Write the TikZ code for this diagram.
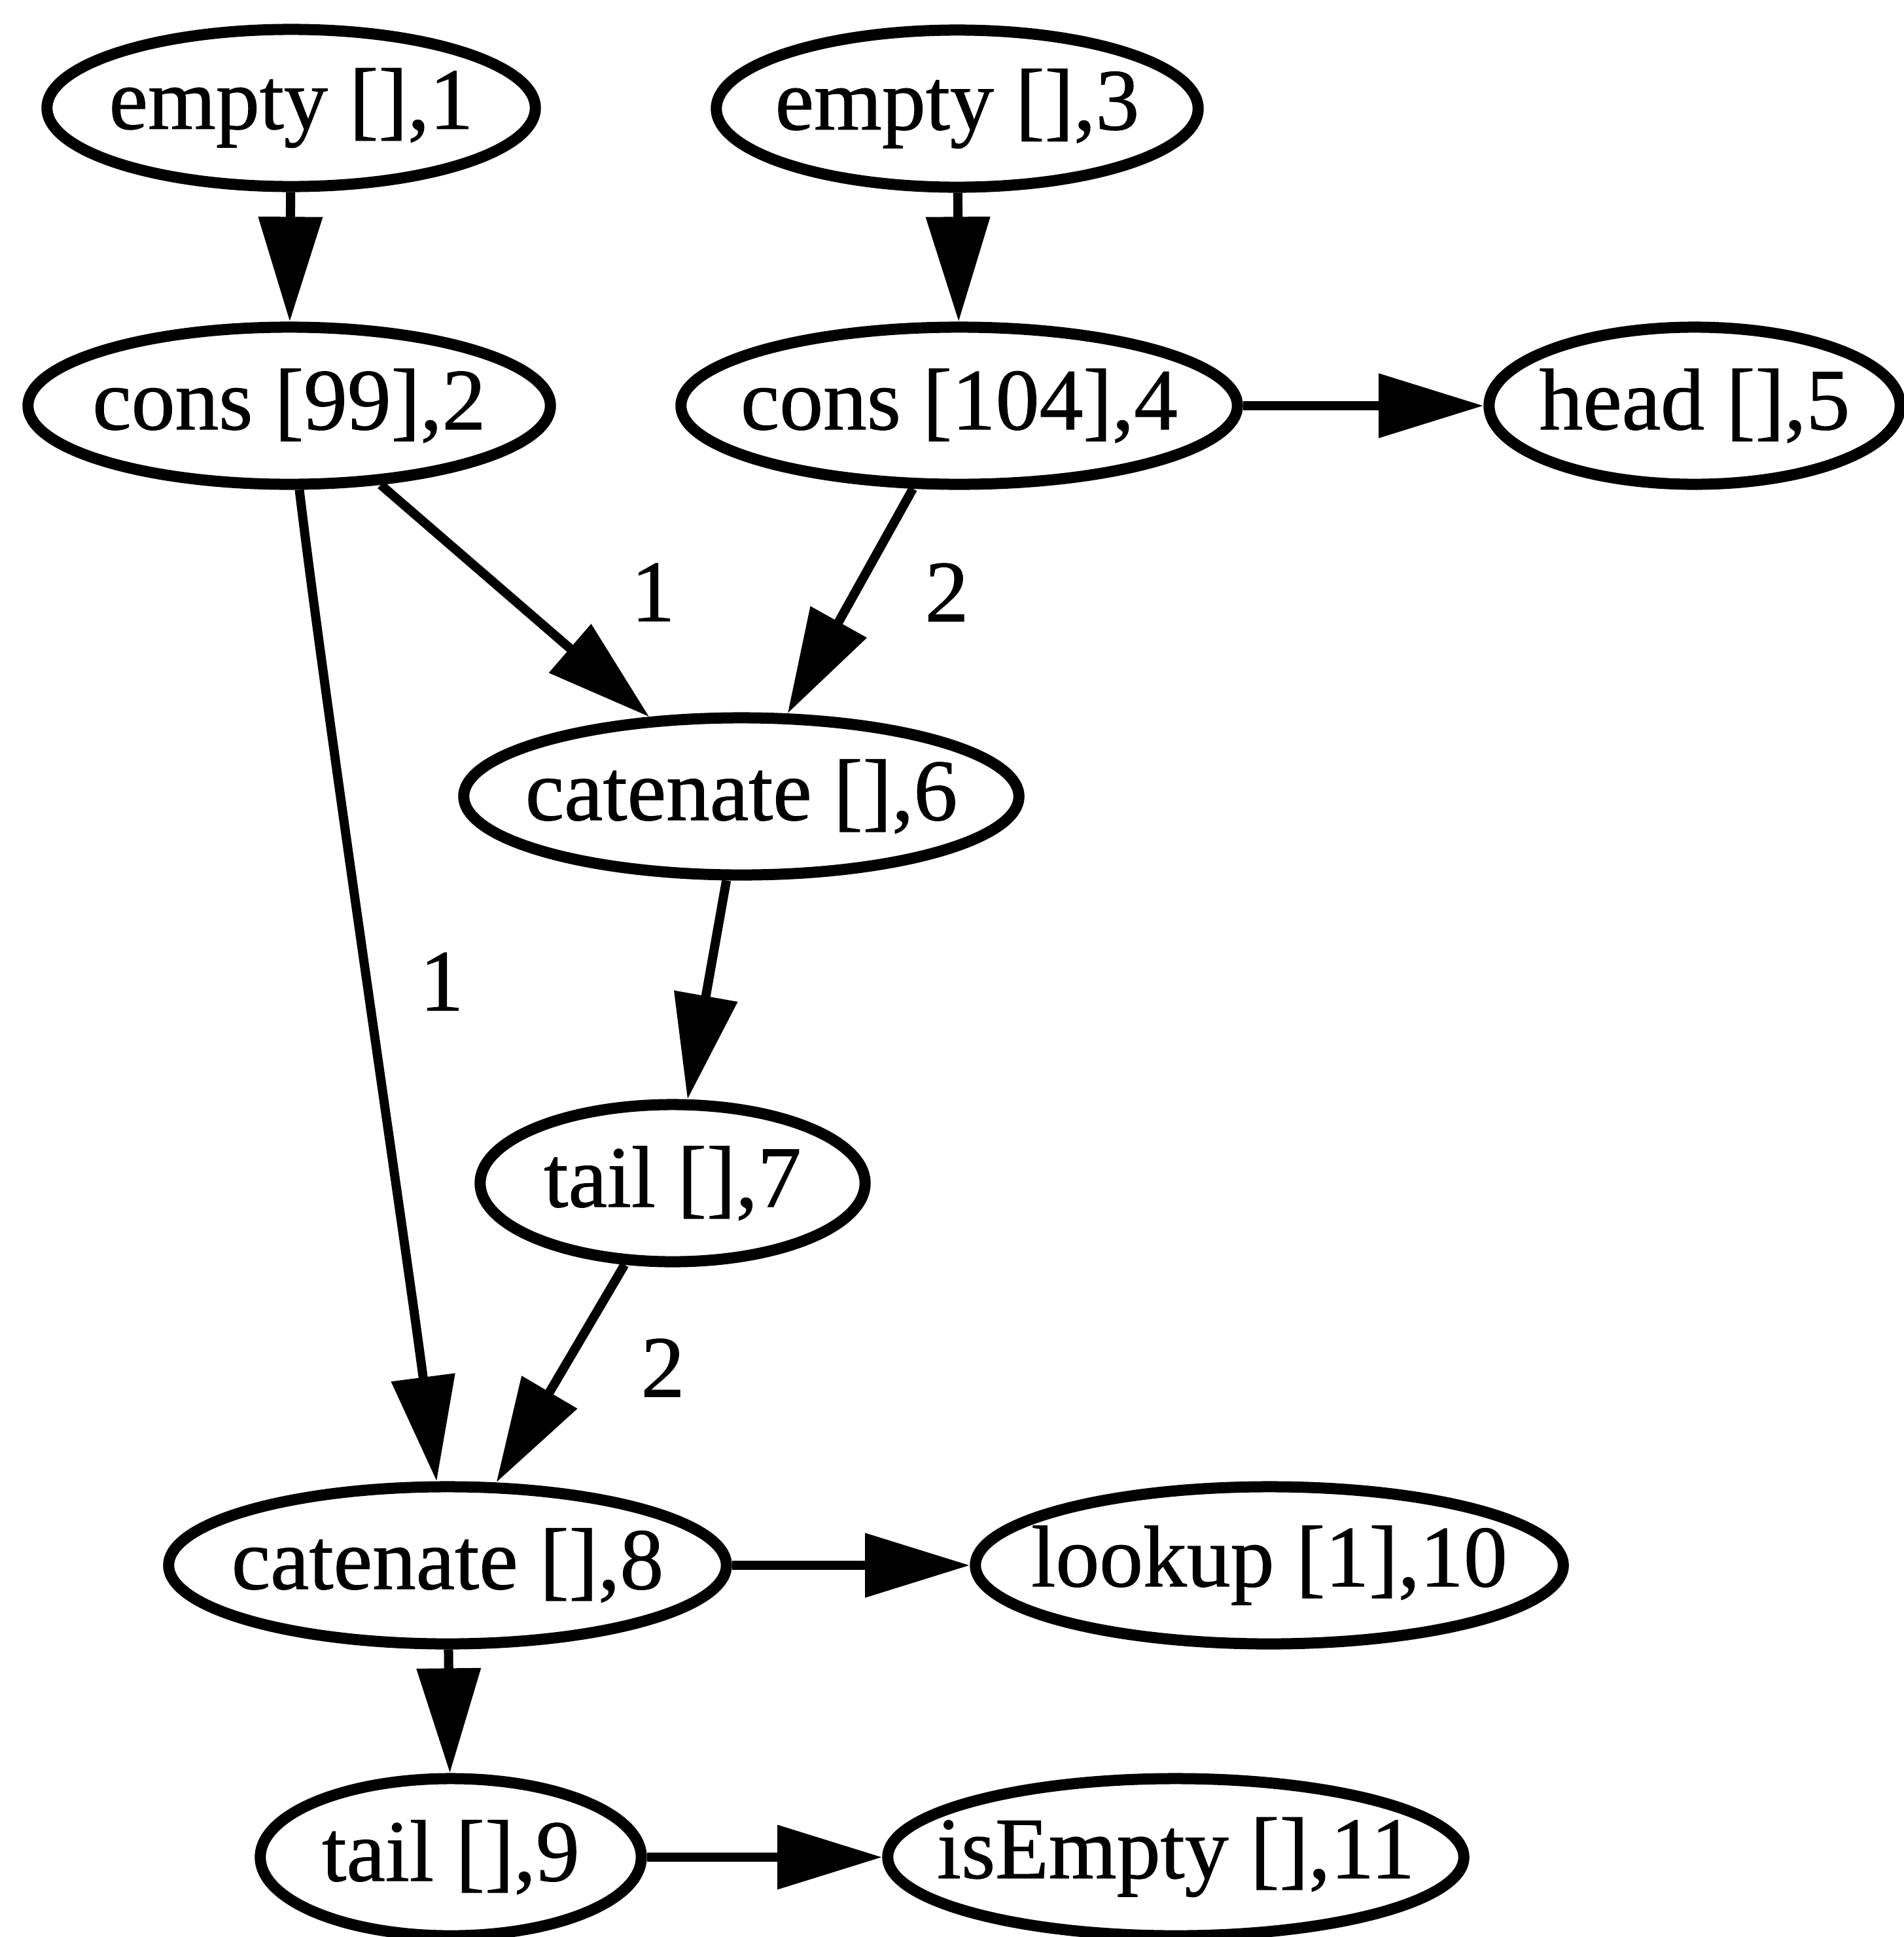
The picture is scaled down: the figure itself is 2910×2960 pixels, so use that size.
\documentclass[tikz,border=0pt]{standalone}
\usepackage{fontspec}
\setmainfont{Liberation Serif}[UprightFeatures={FakeBold=0.8}]
\usetikzlibrary{shapes.geometric,arrows.meta}
\begin{document}
\begin{tikzpicture}[x=0.01cm,y=-0.01cm,
  nd/.style={ellipse,draw,line width=0.17cm,inner sep=0pt,minimum height=2.40cm},
  conn/.style={line width=0.14cm,-{Triangle[length=1.6cm,width=0.95cm]}},
  lbl/.style={inner sep=0pt},
  font=\fontsize{38}{40}\selectfont]
\useasboundingbox (0,0) rectangle (2910,2960);
% nodes
\node[nd,minimum width=7.46cm] (n1) at (445,165) {\makebox[0pt]{empty [],1}};
\node[nd,minimum width=7.98cm] (n2) at (442,620) {\makebox[0pt]{cons [99],2}};
\node[nd,minimum width=7.36cm] (n3) at (1463,166) {\makebox[0pt]{empty [],3}};
\node[nd,minimum width=8.50cm] (n4) at (1466,620) {\makebox[0pt]{cons [104],4}};
\node[nd,minimum width=6.28cm] (n5) at (2590,620) {\makebox[0pt]{head [],5}};
\node[nd,minimum width=8.48cm] (n6) at (1133,1217) {\makebox[0pt]{catenate [],6}};
\node[nd,minimum width=5.88cm] (n7) at (1028,1808) {\makebox[0pt]{tail [],7}};
\node[nd,minimum width=8.52cm] (n8) at (684,2392) {\makebox[0pt]{catenate [],8}};
\node[nd,minimum width=8.98cm] (n10) at (1940,2392) {\makebox[0pt]{lookup [1],10}};
\node[nd,minimum width=5.82cm] (n9) at (689,2838) {\makebox[0pt]{tail [],9}};
\node[nd,minimum width=8.80cm] (n11) at (1797,2838) {\makebox[0pt]{isEmpty [],11}};
% edges
\draw[conn] (n1) -- (n2);
\draw[conn] (n3) -- (n4);
\draw[conn] (n4) -- (n5);
\draw[conn] (n2) -- (n6);
\draw[conn] (n4) -- (n6);
\draw[conn] (n2) .. controls (500,1100) and (620,1900) .. (n8);
\draw[conn] (n6) -- (n7);
\draw[conn] (n7) -- (n8);
\draw[conn] (n8) -- (n10);
\draw[conn] (n8) -- (n9);
\draw[conn] (n9) -- (n11);
% edge labels
\node[lbl] (l26) at (998,905) {1};
\node[lbl] (l46) at (1447,905) {2};
\node[lbl] (l28) at (675,1500) {1};
\node[lbl] (l78) at (1013,2090) {2};
\end{tikzpicture}
\end{document}
